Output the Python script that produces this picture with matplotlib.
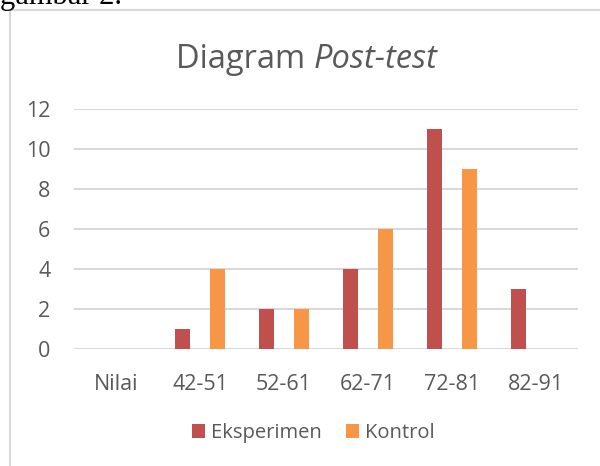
import numpy as np
import matplotlib
matplotlib.use("Agg")
import matplotlib.pyplot as plt
from matplotlib.patches import Rectangle

kategori = ["Nilai", "42-51", "52-61", "62-71", "72-81", "82-91"]
eksperimen = [0, 1, 2, 4, 11, 3]
kontrol = [0, 4, 2, 6, 9, 0]
seri = ["Eksperimen", "Kontrol"]
yticks = [0, 2, 4, 6, 8, 10, 12]

merah = "#C0504D"
oranye = "#F79646"
abu = "#595959"

plt.rcParams["font.family"] = ["Open Sans", "DejaVu Sans"]

fig = plt.figure(figsize=(6.0, 4.66), dpi=100)
W, H = 600, 466

# bingkai diagram
fig.patches.append(Rectangle((10 / W, -0.1), 1.2, 1 - 10 / H + 0.1, transform=fig.transFigure,
                             fill=False, edgecolor="#D9D9D9", linewidth=1.5))
# teks dokumen terpotong di atas
fig.text(0.0, 1 - 4 / H, "gambar 2.", family="Liberation Serif", fontsize=22,
         color="black", va="baseline", ha="left")

ax = fig.add_axes([74 / W, 1 - 349 / H, (578 - 74) / W, (349 - 109) / H])
x = np.arange(len(kategori))
lebar = 0.18
ax.bar(x - 0.21, eksperimen, lebar, color=merah, label=seri[0], zorder=3)
ax.bar(x + 0.21, kontrol, lebar, color=oranye, label=seri[1], zorder=3)

ax.set_xlim(-0.5, len(kategori) - 0.5)
ax.set_ylim(0, 12)
ax.set_yticks(yticks)
ax.set_xticks(x)
ax.set_xticklabels(kategori)
for s in ax.spines.values():
    s.set_visible(False)
ax.yaxis.grid(True, color="#D9D9D9", linewidth=1.5, zorder=0)
ax.tick_params(length=0, colors=abu, labelsize=15.5)
ax.tick_params(axis="x", pad=18)
ax.tick_params(axis="y", pad=17)

fig.text(314 / W, 1 - 60 / H, "Diagram ", fontsize=23.5, color=abu, ha="right", va="center")
fig.text(314 / W, 1 - 60 / H, "Post-test", fontsize=23.5, color=abu, ha="left", va="center",
         style="italic")

ax.legend(loc="center", bbox_to_anchor=((313 - 74) / (578 - 74), (349 - 433) / (349 - 109)),
          ncol=2, frameon=False, fontsize=14.5, labelcolor=abu, handlelength=0.65,
          handleheight=0.65, handletextpad=0.3, columnspacing=1.2)

fig.savefig("out.png", dpi=100)
